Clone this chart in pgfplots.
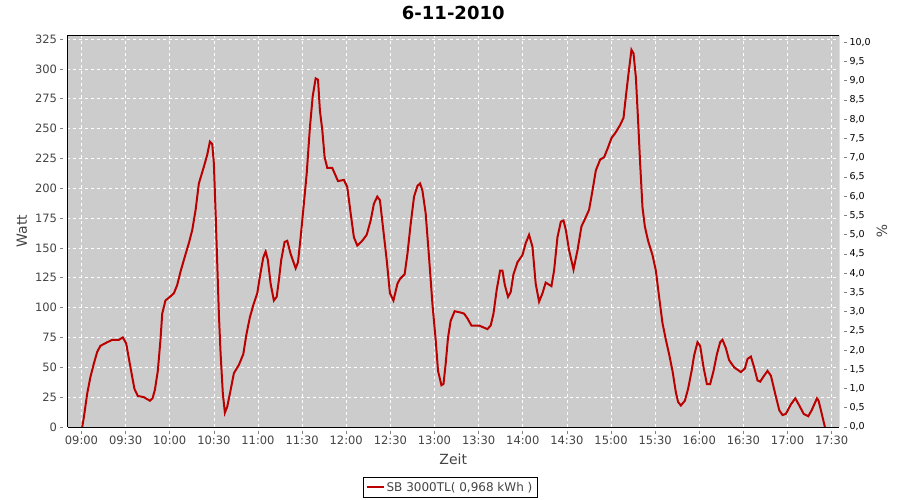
\documentclass[border=0pt]{standalone}
\usepackage{pgfplots}
\pgfplotsset{compat=1.18}
\usepackage{fontspec}
\setmainfont{DejaVu Sans}
\definecolor{bgg}{RGB}{204,204,204}
\definecolor{lred}{RGB}{187,0,0}
\definecolor{txt}{RGB}{68,68,68}
\definecolor{axg}{RGB}{128,128,128}
\begin{document}
\begin{tikzpicture}
\useasboundingbox (0,0) rectangle (900bp,500bp);
\begin{axis}[
  at={(67.5bp,73bp)}, anchor=south west,
  scale only axis, width=771.5bp, height=392bp,
  xmin=-9.5, xmax=515, ymin=0, ymax=328.4,
  axis background/.style={fill=bgg},
  axis line style={black, line width=0.8bp},
  axis y line*=left, axis x line*=bottom,
  /pgf/number format/assume math mode=true,
  xtick={0,30,...,510},
  xticklabels={09:00,09:30,10:00,10:30,11:00,11:30,12:00,12:30,13:00,13:30,14:00,14:30,15:00,15:30,16:00,16:30,17:00,17:30},
  ytick={0,25,...,325},
  tick align=outside, major tick length=3bp,
  x tick style={axg, yshift=-4bp, line width=0.6bp},
  y tick style={axg, xshift=-4.5bp, line width=0.6bp},
  ticklabel style={font=\fontsize{11.5bp}{13bp}\selectfont, text=txt},
  xticklabel style={yshift=-2bp},
  yticklabel style={xshift=-4bp},
  grid=major,
  major grid style={white, dashed, line width=0.6bp},
  title={6-11-2010},
  title style={at={(axis description cs:0.5,1.0255)}, anchor=base, inner sep=0pt, font=\fontsize{18bp}{20bp}\selectfont\bfseries},
  xlabel={Zeit},
  xlabel style={at={(axis description cs:0.5,-0.0969)}, anchor=base, inner sep=0pt, font=\fontsize{14bp}{16bp}\selectfont, text=txt},
  ylabel={Watt},
  ylabel style={at={(axis description cs:-0.059,0.5)}, anchor=center, rotate=0, font=\fontsize{14bp}{16bp}\selectfont, text=txt},
  legend style={at={(axis description cs:0.4958,-0.1543)}, anchor=center, draw=black, fill=white, font=\fontsize{12bp}{14bp}\selectfont, text=txt, inner sep=2.5bp, line width=0.6bp},
  legend cell align=left,
  clip=true,
]
\draw[axg, line width=0.8bp] ([xshift=-4.5bp]rel axis cs:0,0) -- ([xshift=-4.5bp]rel axis cs:0,1);
\draw[axg, line width=0.8bp] ([yshift=-4bp]rel axis cs:0,0) -- ([yshift=-4bp]rel axis cs:1,0);
\draw[black, line width=0.8bp] (rel axis cs:0,0) rectangle (rel axis cs:1,1);
\addplot[lred, line width=2bp] coordinates {
(0.5,0) (1.6,8) (3.9,28) (6.1,42) (8.4,53) (10.7,63) (12.9,68) (17.5,71) (20.9,73) (25.4,73) (28.1,75) (30.4,70) (33.3,50) (36,32) (38.3,26) (42.4,25) (46.5,22) (48.3,24) (49.9,31) (51.9,47) (53.7,73) (54.9,95) (57.1,106) (60.1,109) (62.8,112) (65.1,119) (67.3,130) (70.1,142) (73,154) (75.3,165) (77.6,182) (79.8,204) (83.2,218) (85.5,228) (87.3,239) (88.9,237) (90,221) (91.2,179) (92.3,137) (93.4,95) (94.6,61) (96.1,28) (97.5,12) (99.1,17) (101.4,31) (103.6,45) (107,52) (110,61) (112.2,78) (114.5,92) (116.8,102) (119.5,112) (121.3,126) (123.6,142) (125.2,147) (126.7,140) (128.6,120) (130.8,106) (132.7,109) (134.2,123) (135.8,140) (138.1,155) (139.9,156) (142.2,145) (145.6,133) (147.2,138) (149,159) (150.8,182) (153.1,212) (155.3,251) (157.2,277) (159.2,292) (160.8,291) (162.1,265) (163.7,249) (165.3,226) (167.1,217) (170.5,217) (174.4,206) (178.4,207) (180.7,201) (183,179) (185.2,159) (187.5,152) (190.9,156) (193.9,161) (196.6,173) (198.8,187) (201.1,193) (202.9,190) (205.2,165) (207.5,140) (209.7,112) (212.1,106) (214.8,120) (216.5,124) (219.7,128) (221.6,145) (223.8,170) (226.1,193) (228.4,202) (230.2,204) (231.8,198) (234,179) (236.3,142) (238.6,103) (240.8,73) (242.4,47) (244.7,35) (246.1,36) (247.6,53) (249.2,75) (251,89) (253.7,97) (257.4,96) (260.1,95) (262.4,91) (265.1,85) (270.3,85) (276,82) (278.2,85) (280.1,95) (282.3,115) (284.6,131) (286.2,131) (287.8,119) (290,109) (291.8,113) (293.7,128) (296.4,138) (299.8,144) (302,154) (304.3,161) (306.6,151) (308.8,120) (311.1,105) (313.4,112) (315.6,121) (319.5,118) (321.3,131) (323.6,159) (325.9,172) (327.7,173) (329.3,165) (331.5,148) (334.5,132) (337.2,148) (339.9,168) (342.2,174) (345.1,182) (347.4,198) (349.7,215) (352.6,224) (355.3,226) (357.6,233) (360.3,242) (363.3,247) (366.2,253) (368.5,259) (370.1,277) (371.9,296) (373.9,316) (375.3,313) (376.9,293) (378.4,257) (379.8,221) (381.4,184) (383,168) (385.2,156) (388.2,144) (390.5,131) (392.7,109) (395,87) (397.3,73) (399.5,61) (401.8,47) (404.1,29) (405.6,21) (407.5,18) (410.2,22) (412.4,32) (414.8,47) (416.5,60) (418.8,71) (420.6,68) (422.9,50) (425.2,36) (427.4,36) (429.7,47) (432,61) (434.2,71) (435.8,73) (438.1,66) (440.3,56) (443.7,50) (448.3,46) (451,49) (452.8,57) (455.1,59) (457.3,50) (459.6,39) (461.4,38) (464.1,43) (466.4,47) (468.7,43) (471.4,29) (474.4,14) (476.6,10) (478.9,11) (482.3,19) (485.3,24) (488,18) (491,11) (494.1,9) (496.4,14) (498.2,19) (500,24) (501.1,22) (502.7,14) (505.4,0)
};
\addlegendentry{SB 3000TL( 0,968 kWh )}
\end{axis}
\begin{axis}[
  at={(67.5bp,73bp)}, anchor=south west,
  scale only axis, width=771.5bp, height=392bp,
  xmin=-9.5, xmax=515, ymin=0, ymax=10.19,
  axis x line=none, axis y line*=right,
  axis line style={draw=none},
  /pgf/number format/assume math mode=true,
  ytick={0,0.5,...,10},
  yticklabel={\pgfmathprintnumber[fixed,fixed zerofill,precision=1,use comma]{\tick}},
  tick align=outside, major tick length=3bp,
  y tick style={axg, xshift=4.5bp, line width=0.6bp},
  ticklabel style={font=\fontsize{9.5bp}{11bp}\selectfont, text=black},
  yticklabel style={xshift=4bp},
  ylabel={\%},
  ylabel style={at={(axis description cs:1.0557,0.5)}, anchor=center, rotate=180, font=\fontsize{14bp}{16bp}\selectfont, text=txt},
]
\draw[axg, line width=0.8bp] ([xshift=4.5bp]rel axis cs:1,0) -- ([xshift=4.5bp]rel axis cs:1,1);
\end{axis}
\end{tikzpicture}
\end{document}
